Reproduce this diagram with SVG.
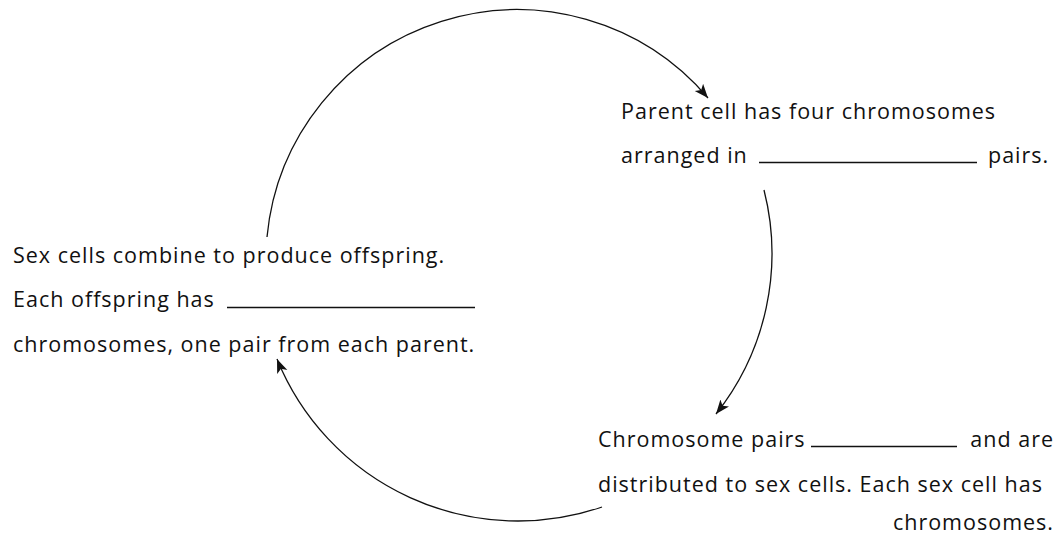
<svg xmlns="http://www.w3.org/2000/svg" width="1058" height="535" viewBox="0 0 1058 535">
<style>
.t{font-family:"Open Sans","Noto Sans","Liberation Sans",sans-serif;font-size:21.5px;letter-spacing:1px;fill:#111;}
.blank{stroke:#111;stroke-width:1.3;}
.arc{fill:none;stroke:#111;stroke-width:1.3;}
</style>
<defs>
<marker id="ah" markerUnits="userSpaceOnUse" markerWidth="15" markerHeight="12" refX="14" refY="5.5" orient="auto">
<path d="M0,0 L14,5.5 L0,11 L3.5,5.5 Z" fill="#111"/>
</marker>
</defs>
<rect width="1058" height="535" fill="#fff"/>
<g id="connectors">
<path class="arc" d="M267 237 A251 251 0 0 1 708 98" marker-end="url(#ah)"/>
<path class="arc" d="M764 190 A258 258 0 0 1 716 414" marker-end="url(#ah)"/>
<path class="arc" d="M602 507 A260 260 0 0 1 277 359" marker-end="url(#ah)"/>
</g>
<g id="node-parent">
<text class="t" x="621" y="119">Parent cell has four chromosomes</text>
<text class="t" x="621" y="163">arranged in</text>
<line class="blank" x1="759" y1="162.5" x2="977" y2="162.5"/>
<text class="t" x="988" y="163">pairs.</text>
</g>
<g id="node-sexcells">
<text class="t" x="598" y="447">Chromosome pairs</text>
<line class="blank" x1="811" y1="446.5" x2="957" y2="446.5"/>
<text class="t" x="1054" y="447" text-anchor="end">and are</text>
<text class="t" x="598" y="492">distributed to sex cells. Each sex cell has</text>
<text class="t" x="1054" y="530" text-anchor="end">chromosomes.</text>
</g>
<g id="node-offspring">
<text class="t" x="13" y="263">Sex cells combine to produce offspring.</text>
<text class="t" x="13" y="307">Each offspring has</text>
<line class="blank" x1="227" y1="307.5" x2="475" y2="307.5"/>
<text class="t" x="13" y="352">chromosomes, one pair from each parent.</text>
</g>
</svg>
